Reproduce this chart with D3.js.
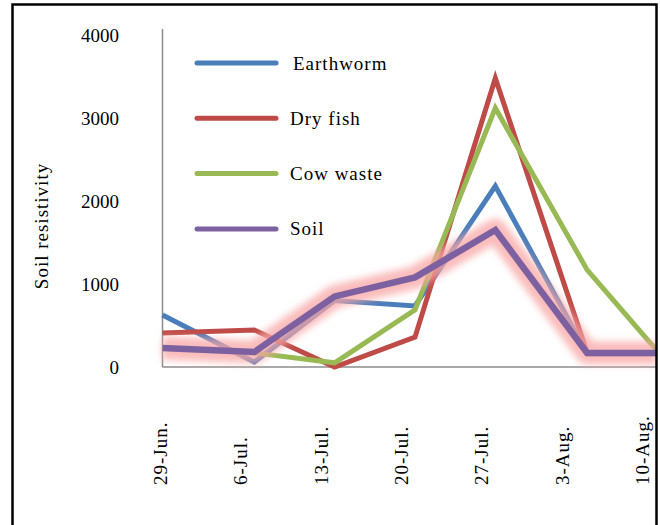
<!DOCTYPE html>
<html>
<head>
<meta charset="utf-8">
<script src="https://cdn.jsdelivr.net/npm/d3@7/dist/d3.min.js"></script>
<style>
  html, body { margin: 0; padding: 0; background: #fff; }
  svg { display: block; }
  text { font-family: "Liberation Serif", "DejaVu Serif", serif; fill: #000; }
</style>
</head>
<body>
<svg id="chart" width="660" height="525"></svg>
<script>
// Sampling dates (measurement days)
const dates = ["2015-06-29", "2015-07-07", "2015-07-14", "2015-07-21", "2015-07-28", "2015-08-05", "2015-08-11"];
// Axis tick dates and labels
const tickDates = ["2015-06-29", "2015-07-06", "2015-07-13", "2015-07-20", "2015-07-27", "2015-08-03", "2015-08-10"];
const tickLabels = ["29-Jun.", "6-Jul.", "13-Jul.", "20-Jul.", "27-Jul.", "3-Aug.", "10-Aug."];
const yTicks = [0, 1000, 2000, 3000, 4000];

// Soil resistivity per treatment
const earthworm = [626, 60, 800, 735, 2180, 160, 160];
const dryFish   = [410, 446, 0, 360, 3480, 170, 170];
const cowWaste  = [230, 170, 50, 690, 3120, 1170, 210];
const soil      = [229, 180, 850, 1080, 1650, 170, 170];

const seriesNames  = ["Earthworm", "Dry fish", "Cow waste", "Soil"];
const seriesValues = [earthworm, dryFish, cowWaste, soil];
const seriesColors = ["#4a7ebb", "#be4b48", "#98b954", "#7d60a0"];

const parse = d3.timeParse("%Y-%m-%d");
const svg = d3.select("#chart");

const x = d3.scaleTime()
  .domain([parse(dates[0]), parse(dates[dates.length - 1])])
  .range([162.5, 656]);
const y = d3.scaleLinear().domain([0, 4000]).range([367, 35]);

// Soft glow filter for the soil series
const defs = svg.append("defs");
defs.append("filter").attr("id", "glow")
  .attr("x", "-20%").attr("y", "-20%").attr("width", "140%").attr("height", "140%")
  .append("feGaussianBlur").attr("stdDeviation", 3.5);
defs.append("clipPath").attr("id", "plotClip")
  .append("rect").attr("x", 0).attr("y", 0).attr("width", 656).attr("height", 525);

// Axes (gray lines, no ticks)
svg.append("line")
  .attr("x1", x.range()[0]).attr("x2", 656)
  .attr("y1", y(0)).attr("y2", y(0))
  .attr("stroke", "#8c8c8c").attr("stroke-width", 1.5);
svg.append("line")
  .attr("x1", x.range()[0]).attr("x2", x.range()[0])
  .attr("y1", y(0)).attr("y2", 29)
  .attr("stroke", "#8c8c8c").attr("stroke-width", 1.5);

// Y tick labels
svg.append("g").selectAll("text").data(yTicks).join("text")
  .attr("x", 119).attr("y", d => y(d))
  .attr("text-anchor", "end").attr("dominant-baseline", "central")
  .style("font-size", "19px")
  .text(d => d);

// X tick labels (rotated)
svg.append("g").selectAll("text").data(tickDates).join("text")
  .attr("transform", (d) => `translate(${x(parse(d)) - 2},485) rotate(-90)`)
  .attr("text-anchor", "start").attr("dominant-baseline", "central")
  .style("font-size", "19px").style("letter-spacing", "1px")
  .text((d, i) => tickLabels[i]);

// Y axis title
svg.append("text")
  .attr("transform", "translate(41,226) rotate(-90)")
  .attr("text-anchor", "middle").attr("dominant-baseline", "central")
  .style("font-size", "19px").style("letter-spacing", "1px")
  .text("Soil  resistivity");

const line = d3.line()
  .x((d, i) => x(parse(dates[i])))
  .y(d => y(d));

const plot = svg.append("g").attr("clip-path", "url(#plotClip)");

seriesValues.forEach((vals, k) => {
  if (k === 3) {
    plot.append("path").datum(vals)
      .attr("d", line).attr("fill", "none")
      .attr("stroke", "#f8a5a5").attr("stroke-width", 23)
      .attr("stroke-opacity", 0.75)
      .attr("stroke-linejoin", "round")
      .attr("filter", "url(#glow)");
  }
  plot.append("path").datum(vals)
    .attr("d", line).attr("fill", "none")
    .attr("stroke", seriesColors[k])
    .attr("stroke-width", k === 3 ? 6.5 : 5)
    .attr("stroke-linejoin", "miter");
});

// Legend
const legend = svg.append("g");
seriesNames.forEach((name, k) => {
  const ly = 63 + k * 55.3;
  legend.append("line")
    .attr("x1", 197).attr("x2", 276).attr("y1", ly).attr("y2", ly)
    .attr("stroke", seriesColors[k]).attr("stroke-width", 5)
    .attr("stroke-linecap", "round");
  legend.append("text")
    .attr("x", k === 0 ? 293 : 290).attr("y", ly)
    .attr("dominant-baseline", "central")
    .style("font-size", "19px").style("letter-spacing", "1px")
    .text(name);
});

// Outer frame
svg.append("rect")
  .attr("x", 12.5).attr("y", 4.5).attr("width", 644).attr("height", 522)
  .attr("fill", "none").attr("stroke", "#000").attr("stroke-width", 2.5);
</script>
</body>
</html>
